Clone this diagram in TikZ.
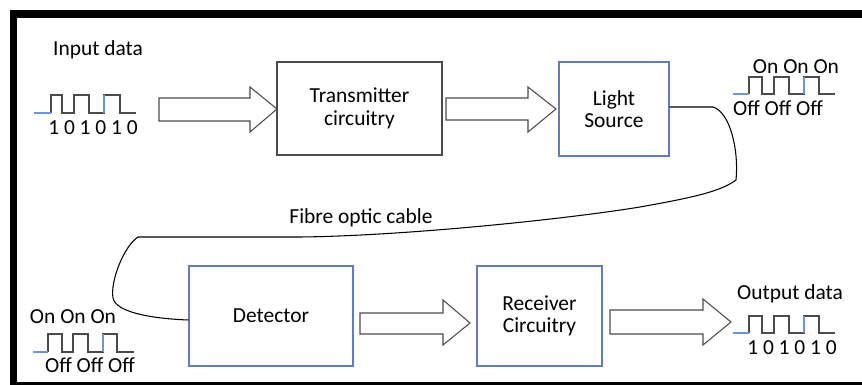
\documentclass[tikz,border=0pt]{standalone}
\usepackage{fontspec}
\setmainfont{Carlito}
\definecolor{boxblue}{RGB}{95,125,185}
\definecolor{wireblue}{RGB}{110,150,215}
\definecolor{linegray}{RGB}{75,75,75}
\tikzset{
    block/.style={draw=boxblue, line width=0.6pt, align=center, inner sep=0pt},
    fatarrow/.style={draw=linegray, line width=0.6pt, fill=white},
    wave/.style={draw=linegray, line width=0.6pt},
    lbl/.style={inner sep=0pt}
}
\begin{document}
\begin{tikzpicture}[x=0.02cm, y=-0.02cm, font=\fontsize{12.2}{12.8}\selectfont]
\useasboundingbox (0,0) rectangle (862,385);

% frame
\fill[black] (10,10) rectangle (862,18);
\fill[black] (10,10) rectangle (17,385);
\fill[black] (17,382) rectangle (862,385);

% blocks
\node[block, draw=linegray, minimum width=3.3cm, minimum height=1.86cm] (tx) at (359.5,108.5) {Transmitter\\circuitry};
\node[block, minimum width=2.2cm, minimum height=1.88cm] (ls) at (614,109) {Light\\Source};
\node[block, minimum width=3.28cm, minimum height=2cm] (det) at (271,316) {Detector};
\node[block, minimum width=2.5cm, minimum height=2cm] (rc) at (539.5,316) {Receiver\\Circuitry};

% block arrows
\draw[fatarrow] (159,98) -- (250,98) -- (250,87) -- (277,109) -- (250,132) -- (250,121) -- (159,121) -- cycle;
\draw[fatarrow] (446,98) -- (528,98) -- (528,87) -- (556,109) -- (528,132) -- (528,120) -- (446,120) -- cycle;
\draw[fatarrow] (360,313) -- (443,313) -- (443,300) -- (470,323) -- (443,345) -- (443,334) -- (360,334) -- cycle;
\draw[fatarrow] (610,310) -- (703,310) -- (703,299) -- (731,322) -- (703,345) -- (703,334) -- (610,334) -- cycle;

% input side
\node[lbl] (inlbl) at (98,50) {Input data};
\draw[wave] (51,113) -- (51,95) -- (62,95) -- (62,113) -- (74,113) -- (74,95) -- (89,95) -- (89,113) -- (104,113) -- (104,95) -- (120,95) -- (120,113) -- (136,113);
\draw[wave, draw=wireblue] (34,113) -- (51,113);
\draw[wave, draw=wireblue] (104,113) -- (104,95);
\node[lbl] (inbits) at (93,128) {1 0 1 0 1 0};

% light pulses leaving the source
\node[lbl] (txon) at (796,67) {On On On};
\draw[wave] (749,94) -- (749,77) -- (762,77) -- (762,94) -- (774,94) -- (774,77) -- (789,77) -- (789,94) -- (804,94) -- (804,77) -- (819,77) -- (819,94) -- (835,94);
\draw[wave, draw=wireblue] (733,94) -- (749,94);
\draw[wave, draw=wireblue] (804,94) -- (804,77);
\node[lbl] (txoff) at (778,108) {Off Off Off};

% fibre
\draw[line width=0.6pt, black] (ls.east |- 0,107) -- (713,107)
    .. controls (730,112) and (739,150) .. (736,180)
    .. controls (720,192) and (690,198) .. (640,207)
    .. controls (560,220) and (400,236) .. (300,237) -- (138,237)
    .. controls (125,245) and (110,280) .. (113,298)
    .. controls (116,314) and (160,319) .. (det.west |- 0,320);
\node[lbl] (fibre) at (361,218) {Fibre optic cable};

% light pulses arriving
\node[lbl] (rxon) at (73,317) {On On On};
\draw[wave] (48,352) -- (48,334) -- (62,334) -- (62,352) -- (73,352) -- (73,334) -- (88,334) -- (88,352) -- (103,352) -- (103,334) -- (117,334) -- (117,352) -- (134,352);
\draw[wave, draw=wireblue] (33,352) -- (48,352);
\draw[wave, draw=wireblue] (103,352) -- (103,334);
\node[lbl] (rxoff) at (90,365) {Off Off Off};

% output side
\node[lbl] (outlbl) at (790,294) {Output data};
\draw[wave] (749,333) -- (749,316) -- (762,316) -- (762,333) -- (774,333) -- (774,316) -- (789,316) -- (789,333) -- (804,333) -- (804,316) -- (819,316) -- (819,333) -- (835,333);
\draw[wave, draw=wireblue] (733,333) -- (749,333);
\draw[wave, draw=wireblue] (804,333) -- (804,316);
\node[lbl] (outbits) at (792,348) {1 0 1 0 1 0};

\end{tikzpicture}
\end{document}
